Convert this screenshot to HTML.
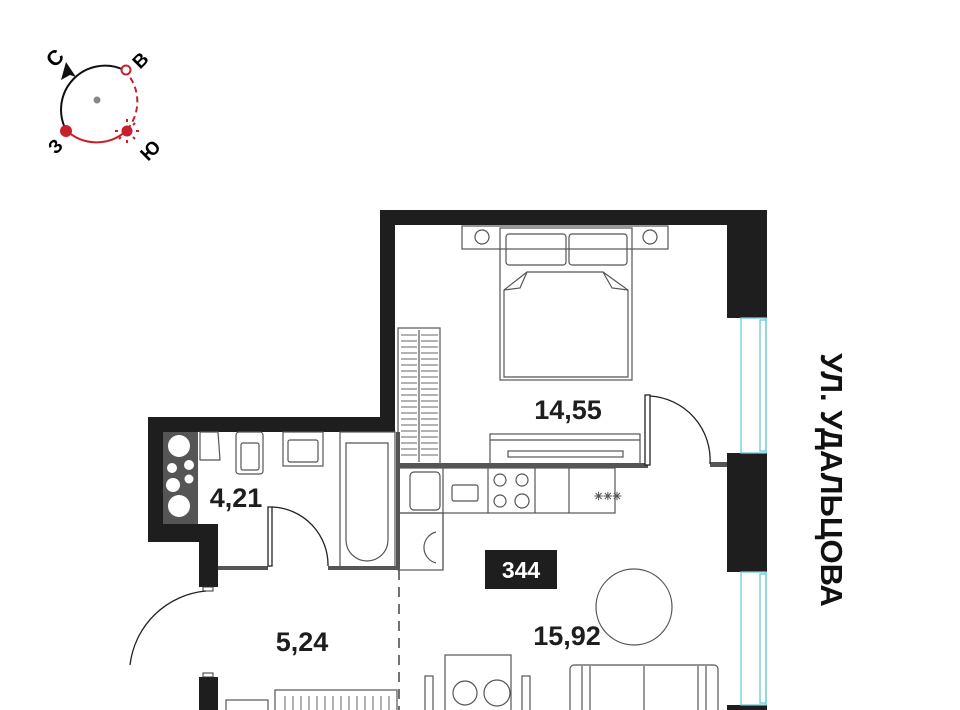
<!DOCTYPE html>
<html><head><meta charset="utf-8"><style>
html,body{margin:0;padding:0;background:#fff;}
svg{display:block;}
text{font-family:"Liberation Sans",sans-serif;font-weight:bold;}
</style></head><body>
<svg width="960" height="710" viewBox="0 0 960 710" xmlns="http://www.w3.org/2000/svg">
<!-- compass -->
<path d="M 66 130 A 44 44 0 0 1 124 70" fill="none" stroke="#111" stroke-width="2"/>
<path d="M 124 70 A 44 44 0 0 1 126 131" fill="none" stroke="#c8202a" stroke-width="2" stroke-dasharray="6,4"/>
<path d="M 126 131 A 44 44 0 0 1 66 130" fill="none" stroke="#c8202a" stroke-width="2"/>
<polygon points="66,62 76,77 70,75 61,80" fill="#111"/>
<circle cx="97" cy="100" r="3.5" fill="#888"/>
<circle cx="126" cy="70" r="4.5" fill="#fff" stroke="#c8202a" stroke-width="2"/>
<circle cx="66" cy="131" r="6" fill="#c8202a"/>
<circle cx="127" cy="131" r="5.5" fill="#c8202a"/>
<g stroke="#c8202a" stroke-width="2"><line x1="127" y1="119" x2="127" y2="122"/><line x1="139" y1="131" x2="136" y2="131"/><line x1="127" y1="143" x2="127" y2="140"/><line x1="115" y1="131" x2="118" y2="131"/><line x1="135" y1="123" x2="133" y2="125"/><line x1="135" y1="139" x2="133" y2="137"/><line x1="119" y1="139" x2="121" y2="137"/></g>
<text x="55" y="65" font-size="21" transform="rotate(-45 55 58)" text-anchor="middle">С</text>
<text x="140" y="67" font-size="19" transform="rotate(-45 140 60)" text-anchor="middle">В</text>
<text x="55" y="153" font-size="19" transform="rotate(-45 55 146)" text-anchor="middle">З</text>
<text x="150" y="157" font-size="19" transform="rotate(-45 150 150)" text-anchor="middle">Ю</text>

<!-- walls black -->
<g fill="#1e1e1e">
<rect x="380" y="210" width="387" height="15"/>
<rect x="380" y="210" width="15" height="222"/>
<rect x="727" y="210" width="40" height="108"/>
<rect x="727" y="453" width="40" height="119"/>
<rect x="727" y="705" width="40" height="5"/>
<rect x="148" y="417" width="247" height="15"/>
<rect x="148" y="417" width="15" height="125"/>
<rect x="148" y="524" width="70" height="18"/>
<rect x="199" y="524" width="19" height="63"/>
<rect x="199" y="677" width="19" height="33"/>
</g>
<rect x="203" y="587" width="10" height="4" fill="#fff" stroke="#333" stroke-width="1"/>
<rect x="203" y="673" width="10" height="4" fill="#fff" stroke="#333" stroke-width="1"/>
<!-- shaft -->
<rect x="163" y="432" width="35" height="92" fill="#555"/>
<g fill="#fff"><circle cx="179" cy="446" r="11"/><circle cx="172" cy="468" r="5"/><circle cx="189" cy="465" r="5"/><circle cx="173" cy="485" r="7"/><circle cx="189" cy="479" r="4.5"/><circle cx="179" cy="506" r="11"/></g>
<!-- windows -->
<g fill="none" stroke="#6cc8dc" stroke-width="1.3">
<rect x="741" y="318" width="25" height="135"/><rect x="760" y="320" width="6" height="131"/>
<rect x="741" y="572" width="25" height="133"/><rect x="760" y="574" width="6" height="129"/>
</g>
<!-- gray partitions -->
<g fill="#555">
<rect x="396" y="432" width="4" height="138"/>
<rect x="218" y="566" width="50" height="4"/>
<rect x="328" y="566" width="70" height="4"/>
<rect x="398" y="463" width="250" height="5"/>
<rect x="710" y="462" width="17" height="5"/>
</g>
<line x1="399" y1="570" x2="399" y2="710" stroke="#444" stroke-width="1.5" stroke-dasharray="10,7"/>
<!-- doors -->
<g fill="none" stroke="#222" stroke-width="1.3">
<rect x="268" y="507" width="4" height="59" fill="#fff"/>
<path d="M 272 507 A 58 58 0 0 1 328 566"/>
<rect x="645" y="395" width="5" height="70" fill="#fff"/>
<path d="M 650 396 A 64 64 0 0 1 710 464"/>
<path d="M 206 591 A 84 84 0 0 0 130 665"/>
</g>
<!-- furniture -->
<g fill="none" stroke="#555" stroke-width="1.2">
<rect x="462" y="226" width="206" height="23"/>
<circle cx="482" cy="237" r="7"/><circle cx="650" cy="237" r="7"/>
<rect x="500" y="228" width="132" height="152"/>
<rect x="506" y="234" width="60" height="31" rx="3"/><rect x="569" y="234" width="58" height="31" rx="3"/>
<path d="M 504 377 V 290 L 527 272 H 603 L 628 290 V 377 Z"/>
<path d="M 504 290 L 520 288 L 527 272 M 628 290 L 612 288 L 603 272"/>
<rect x="398" y="328" width="42" height="136"/>
<line x1="419" y1="330" x2="419" y2="462"/>
<rect x="490" y="434" width="150" height="30"/>
<line x1="490" y1="440" x2="640" y2="440"/>
<rect x="508" y="451" width="115" height="6"/>
<rect x="398" y="468" width="217" height="45"/>
<line x1="443" y1="468" x2="443" y2="570"/><line x1="488" y1="468" x2="488" y2="513"/><line x1="535" y1="468" x2="535" y2="513"/><line x1="569" y1="468" x2="569" y2="513"/>
<rect x="410" y="472" width="30" height="38" rx="4"/>
<rect x="452" y="485" width="26" height="16" rx="2"/>
<circle cx="500" cy="480" r="6"/><circle cx="522" cy="480" r="6"/><circle cx="500" cy="501" r="6"/><circle cx="522" cy="501" r="7"/>
<rect x="398" y="513" width="45" height="57"/>
<path d="M 436 532 A 16 16 0 0 0 436 563"/>
<rect x="236" y="432" width="27" height="42" rx="3"/><rect x="241" y="443" width="18" height="27" rx="2"/>
<rect x="283" y="432" width="40" height="34"/><rect x="288" y="440" width="30" height="22" rx="2"/>
<rect x="340" y="432" width="55" height="136"/>
<path d="M 346 443 H 388 V 540 A 21 21 0 0 1 346 540 Z"/>
<path d="M 200 432 H 218 L 220 460 H 200 Z"/>
<circle cx="634" cy="607" r="38"/>
<rect x="570" y="665" width="148" height="50" rx="4"/>
<line x1="582" y1="666" x2="582" y2="710"/><line x1="590" y1="666" x2="590" y2="710"/><line x1="644" y1="666" x2="644" y2="710"/><line x1="698" y1="666" x2="698" y2="710"/><line x1="706" y1="666" x2="706" y2="710"/>
<rect x="445" y="655" width="66" height="60"/>
<rect x="425" y="676" width="8" height="40"/><rect x="522" y="676" width="8" height="40"/>
<circle cx="465" cy="693" r="12"/><circle cx="497" cy="693" r="13"/>
<rect x="275" y="690" width="122" height="25"/>
<rect x="226" y="700" width="42" height="15"/>
</g>
<g stroke="#666" stroke-width="1">
<path d="M401 335H417M401 341H417M401 347H417M401 353H417M401 359H417M401 365H417M401 371H417M401 377H417M401 383H417M401 389H417M401 395H417M401 401H417M401 407H417M401 413H417M401 419H417M401 425H417M401 431H417M401 437H417M401 443H417M401 449H417M401 455H417"/>
<path d="M421 335H438M421 341H438M421 347H438M421 353H438M421 359H438M421 365H438M421 371H438M421 377H438M421 383H438M421 389H438M421 395H438M421 401H438M421 407H438M421 413H438M421 419H438M421 425H438M421 431H438M421 437H438M421 443H438M421 449H438M421 455H438"/>
<path d="M285 696V710M293 696V710M301 696V710M309 696V710M317 696V710M325 696V710M333 696V710M341 696V710M349 696V710M357 696V710M365 696V710M373 696V710M381 696V710M389 696V710"/>
</g>
<text x="594" y="500" font-size="11" fill="#555" font-weight="normal">✳✳✳</text>
<!-- labels -->
<text x="568" y="419" font-size="27" text-anchor="middle" fill="#1e1e1e">14,55</text>
<text x="236" y="507" font-size="27" text-anchor="middle" fill="#1e1e1e">4,21</text>
<text x="302" y="651" font-size="27" text-anchor="middle" fill="#1e1e1e">5,24</text>
<text x="567" y="645" font-size="27" text-anchor="middle" fill="#1e1e1e">15,92</text>
<rect x="485" y="550" width="72" height="39" fill="#1e1e1e"/>
<text x="521" y="578" font-size="23" text-anchor="middle" fill="#fff">344</text>
<text x="832" y="480" font-size="31" text-anchor="middle" fill="#111" transform="rotate(90 832 480)" dy="11">УЛ. УДАЛЬЦОВА</text>
</svg>
</body></html>
